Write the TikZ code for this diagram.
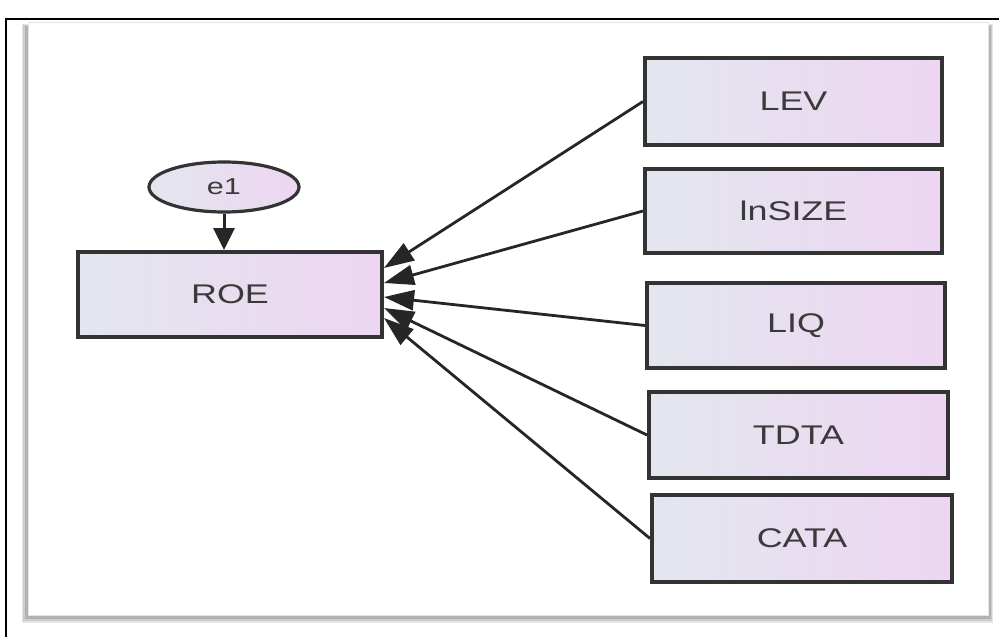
\documentclass[tikz,border=0pt]{standalone}
\usepackage{fontspec}
\setmainfont{Liberation Sans}
\newfontfamily\widefont[FakeStretch=1.33]{Liberation Sans}
\usetikzlibrary{arrows.meta,shapes.geometric}
\definecolor{boxL}{HTML}{E3E6EE}
\definecolor{boxR}{HTML}{EDD6F2}
\definecolor{txt}{HTML}{3A3A3A}
\tikzset{
  varbox/.style={rectangle, draw=black!80, line width=4pt, left color=boxL, right color=boxR,
    text=txt, font=\widefont\fontsize{27}{30}\selectfont, inner sep=0pt},
  errnode/.style={ellipse, draw=black!80, line width=3.2pt, left color=boxL, right color=boxR,
    text=txt, font=\widefont\fontsize{23}{26}\selectfont, minimum width=150pt, minimum height=50pt, inner sep=0pt},
  pathline/.style={draw=black!85, line width=2.8pt, -{Triangle[length=30pt,width=20pt]}},
  errline/.style={draw=black!85, line width=3pt, -{Triangle[length=22pt,width=21pt]}}
}
\begin{document}
\begin{tikzpicture}[x=1pt,y=-1pt]
\useasboundingbox (0,0) rectangle (999,637);
\fill[white] (0,0) rectangle (999,637);
% outer frame (cropped)
\draw[black, line width=2.5pt] (6,637) -- (6,19) -- (999,19);
% panel with shadow
\fill[gray!20] (22,24) rectangle (993,623);
\fill[gray!40] (23,25) rectangle (992,621);
\fill[gray!60] (24.5,26) rectangle (990.5,619);
\fill[white] (28,22) rectangle (988,615);
\draw[gray!20, line width=0.8pt] (28,22) rectangle (988,615);
% nodes
\node[varbox, minimum width=304pt, minimum height=85pt] (roe) at (230,294.5) {ROE};
\node[errnode] (e1) at (224,187) {e1};
\node[varbox, minimum width=297pt, minimum height=87pt] (lev) at (793.5,101.5) {LEV};
\node[varbox, minimum width=297pt, minimum height=84pt] (size) at (793.5,211) {lnSIZE};
\node[varbox, minimum width=298pt, minimum height=85pt] (liq) at (796,325.5) {LIQ};
\node[varbox, minimum width=299pt, minimum height=86pt] (tdta) at (798.5,435) {TDTA};
\node[varbox, minimum width=300pt, minimum height=87pt] (cata) at (802,538.5) {CATA};
% connectors
\draw[errline] (e1.south) -- (roe.north -| e1.south);
\draw[pathline] (lev.west) -- ([yshift=26.5pt]roe.east);
\draw[pathline] (size.west) -- ([yshift=11.5pt]roe.east);
\draw[pathline] (liq.west) -- ([yshift=-2.5pt]roe.east);
\draw[pathline] (tdta.west) -- ([yshift=-13.5pt]roe.east);
\draw[pathline] (cata.west) -- ([yshift=-23.5pt]roe.east);
\end{tikzpicture}
\end{document}
